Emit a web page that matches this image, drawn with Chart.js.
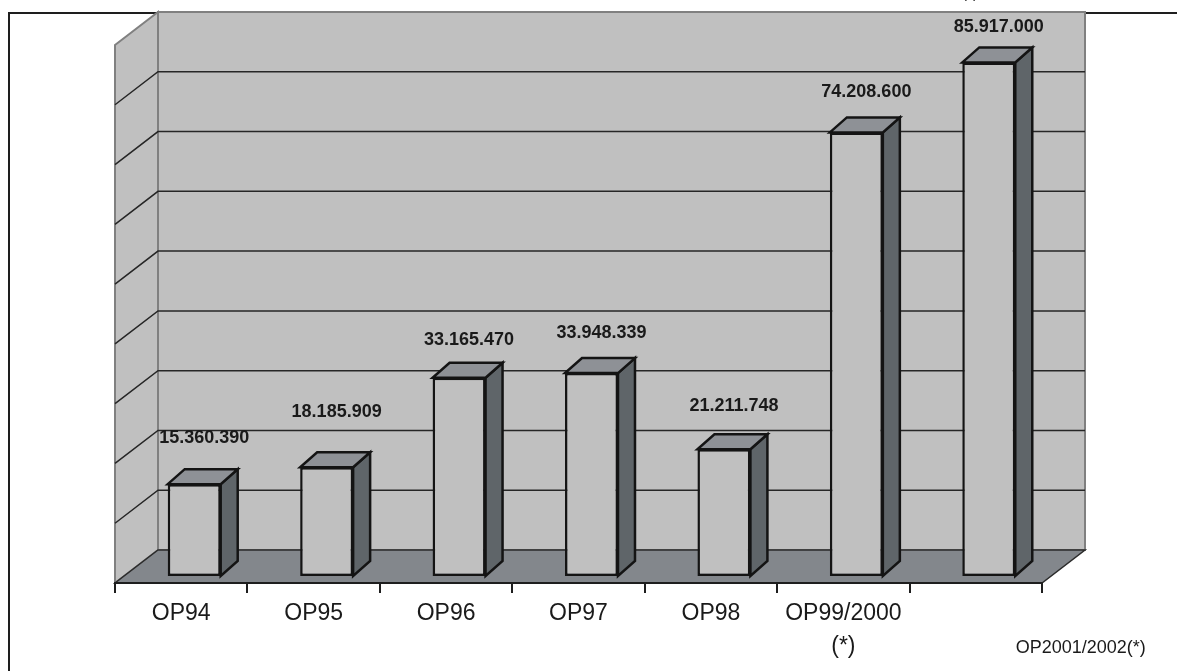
<!DOCTYPE html>
<html>
<head>
<meta charset="utf-8">
<script src="https://cdn.jsdelivr.net/npm/chart.js@4.4.0/dist/chart.umd.min.js"></script>
<style>
    html, body { margin: 0; padding: 0; background: #fff; }
    canvas { display: block; }
</style>
</head>
<body>
<canvas id="opChart" width="1177" height="671"></canvas>
<script>
const categories = ["OP94", "OP95", "OP96", "OP97", "OP98", ["OP99/2000", "(*)"], "OP2001/2002(*)"];
const amounts = [15360390, 18185909, 33165470, 33948339, 21211748, 74208600, 85917000];
const valueMax = 90000000;
const valueStep = 10000000;

// how far each value label sits above its bar (px)
const labelLift = [46, 55, 38, 40, 43, 40, 35];

// oblique offsets for the fake 3D look
const FLOOR_DX = 43, FLOOR_DY = -33;
const BAR_DX = 13, BAR_DY = -7;
const DEPTH_DX = 17, DEPTH_DY = -15;

const FONT = '"Liberation Sans", Arial, sans-serif';

function formatDots(n) {
    return n.toString().replace(/\B(?=(\d{3})+(?!\d))/g, ".");
}

function poly(ctx, pts, fill, stroke, width) {
    ctx.beginPath();
    ctx.moveTo(pts[0][0], pts[0][1]);
    for (let i = 1; i < pts.length; i++) ctx.lineTo(pts[i][0], pts[i][1]);
    ctx.closePath();
    if (fill) { ctx.fillStyle = fill; ctx.fill(); }
    if (stroke) { ctx.strokeStyle = stroke; ctx.lineWidth = width || 1; ctx.lineJoin = "miter"; ctx.stroke(); }
}

const threeD = {
    id: "threeD",
    beforeDraw(chart) {
        const { ctx, chartArea: a } = chart;
        const y = chart.scales.y;
        const y0 = y.getPixelForValue(0);
        const yT = y.getPixelForValue(valueMax);

        ctx.save();
        ctx.fillStyle = "#fff";
        ctx.fillRect(0, 0, chart.width, chart.height);

        // outer frame (runs off the right and bottom edge)
        ctx.strokeStyle = "#1e1e1e";
        ctx.lineWidth = 2;
        ctx.beginPath();
        ctx.moveTo(9, chart.height);
        ctx.lineTo(9, 13);
        ctx.lineTo(chart.width, 13);
        ctx.stroke();

        // clipped heading remnant at the very top
        ctx.fillStyle = "#222";
        ctx.font = "15px " + FONT;
        ctx.textAlign = "center";
        ctx.textBaseline = "alphabetic";
        ctx.fillText("(*)", 970, -2);

        // back wall
        poly(ctx, [
            [a.left + FLOOR_DX, yT + FLOOR_DY], [a.right + FLOOR_DX, yT + FLOOR_DY],
            [a.right + FLOOR_DX, y0 + FLOOR_DY], [a.left + FLOOR_DX, y0 + FLOOR_DY]
        ], "#c0c0c0", "#808080", 2);

        // left wall
        poly(ctx, [
            [a.left, yT], [a.left + FLOOR_DX, yT + FLOOR_DY],
            [a.left + FLOOR_DX, y0 + FLOOR_DY], [a.left, y0]
        ], "#c0c0c0", "#808080", 2);

        // gridlines on both walls
        ctx.strokeStyle = "#262626";
        ctx.lineWidth = 1.5;
        for (let v = valueStep; v < valueMax; v += valueStep) {
            const py = y.getPixelForValue(v);
            ctx.beginPath();
            ctx.moveTo(a.left, py);
            ctx.lineTo(a.left + FLOOR_DX, py + FLOOR_DY);
            ctx.lineTo(a.right + FLOOR_DX, py + FLOOR_DY);
            ctx.stroke();
        }

        // floor
        poly(ctx, [
            [a.left, y0], [a.right, y0],
            [a.right + FLOOR_DX, y0 + FLOOR_DY], [a.left + FLOOR_DX, y0 + FLOOR_DY]
        ], "#83878c", "#2b2b2b", 1.5);
        ctx.restore();
    },
    beforeDatasetsDraw(chart) {
        const ctx = chart.ctx;
        ctx.save();
        ctx.translate(BAR_DX, BAR_DY);
        chart.getDatasetMeta(0).data.forEach(bar => {
            const x1 = bar.x - bar.width / 2;
            const x2 = bar.x + bar.width / 2;
            // side face
            poly(ctx, [
                [x2, bar.y], [x2 + DEPTH_DX, bar.y + DEPTH_DY],
                [x2 + DEPTH_DX, bar.base + DEPTH_DY], [x2, bar.base]
            ], "#5f6569", "#141414", 2.5);
            // top face
            poly(ctx, [
                [x1, bar.y], [x2, bar.y],
                [x2 + DEPTH_DX, bar.y + DEPTH_DY], [x1 + DEPTH_DX, bar.y + DEPTH_DY]
            ], "#8e9196", "#141414", 2.5);
        });
    },
    afterDatasetsDraw(chart) {
        const ctx = chart.ctx;
        ctx.restore();
        ctx.save();
        ctx.fillStyle = "#1a1a1a";
        ctx.font = "bold 18px " + FONT;
        ctx.textAlign = "center";
        ctx.textBaseline = "middle";
        chart.getDatasetMeta(0).data.forEach((bar, i) => {
            ctx.fillText(formatDots(amounts[i]), bar.x + BAR_DX + 10, bar.y + BAR_DY - labelLift[i]);
        });
        ctx.restore();
    },
    afterDraw(chart) {
        // the last category label sits off to the right in a smaller font
        const ctx = chart.ctx;
        const x = chart.scales.x;
        const last = categories.length - 1;
        ctx.save();
        ctx.fillStyle = "#1a1a1a";
        ctx.font = "18px " + FONT;
        ctx.textAlign = "center";
        ctx.textBaseline = "middle";
        ctx.fillText(categories[last], x.getPixelForValue(last) + 105, 648);
        ctx.restore();
    }
};

new Chart(document.getElementById("opChart"), {
    type: "bar",
    data: {
        labels: categories,
        datasets: [{
            data: amounts,
            backgroundColor: "#c0c0c0",
            borderColor: "#141414",
            borderWidth: 2.5,
            borderSkipped: false,
            barPercentage: 0.4,
            categoryPercentage: 1.0,
            clip: false
        }]
    },
    options: {
        responsive: false,
        animation: false,
        events: [],
        layout: { padding: { left: 115, right: 135, top: 45, bottom: 0 } },
        plugins: {
            legend: { display: false },
            tooltip: { enabled: false }
        },
        scales: {
            x: {
                afterFit(scale) { scale.height = 88; },
                grid: {
                    offset: true,
                    drawOnChartArea: false,
                    drawTicks: true,
                    tickLength: 10,
                    color: "#1e1e1e",
                    lineWidth: 2
                },
                border: { display: true, color: "#1e1e1e", width: 2 },
                ticks: {
                    autoSkip: false,
                    maxRotation: 0,
                    minRotation: 0,
                    padding: 5,
                    color: "#1a1a1a",
                    font: { family: FONT, size: 23, lineHeight: 1.4 },
                    callback: (v, i) => (i === categories.length - 1 ? "" : categories[i])
                }
            },
            y: {
                display: false,
                min: 0,
                max: valueMax,
                ticks: { stepSize: valueStep }
            }
        }
    },
    plugins: [threeD]
});
</script>
</body>
</html>
